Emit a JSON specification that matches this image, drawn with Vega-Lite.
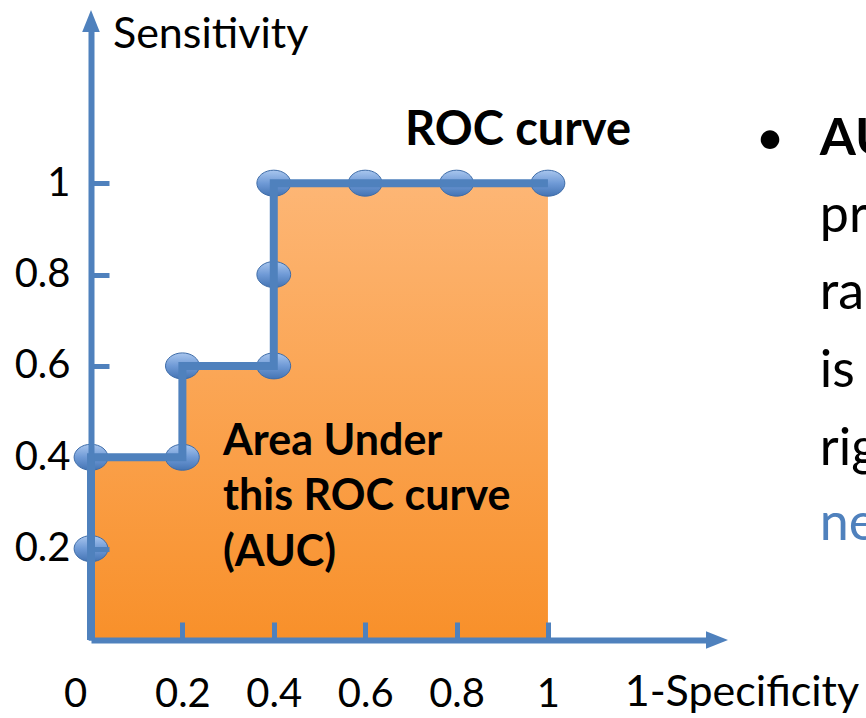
{
  "$schema": "https://vega.github.io/schema/vega-lite/v6.json",
  "width": 626,
  "height": 619,
  "autosize": {"type": "none"},
  "padding": {"left": 91, "top": 21, "right": 149, "bottom": 78},
  "background": "white",
  "config": {"view": {"stroke": null}, "font": "Lato"},
  "datasets": {
    "area": [
      {"x": 0, "y": 0.4},
      {"x": 0.2, "y": 0.6},
      {"x": 0.4, "y": 1},
      {"x": 1, "y": 1}
    ],
    "path": [
      {"o": 1, "x": 0, "y": 0},
      {"o": 2, "x": 0, "y": 0.4},
      {"o": 3, "x": 0.2, "y": 0.4},
      {"o": 4, "x": 0.2, "y": 0.6},
      {"o": 5, "x": 0.4, "y": 0.6},
      {"o": 6, "x": 0.4, "y": 1},
      {"o": 7, "x": 1, "y": 1}
    ],
    "pts": [
      {"x": 0, "y": 0.2},
      {"x": 0, "y": 0.4},
      {"x": 0.2, "y": 0.4},
      {"x": 0.2, "y": 0.6},
      {"x": 0.4, "y": 0.6},
      {"x": 0.4, "y": 0.8},
      {"x": 0.4, "y": 1},
      {"x": 0.6, "y": 1},
      {"x": 0.8, "y": 1},
      {"x": 1, "y": 1}
    ]
  },
  "encoding": {
    "x": {
      "field": "x", "type": "quantitative",
      "scale": {"domain": [0, 1.37], "nice": false, "zero": false},
      "axis": {
        "values": [0, 0.2, 0.4, 0.6, 0.8, 1], "format": "~g", "title": null, "grid": false,
        "domainColor": "#4f81bd", "domainWidth": 6, "tickColor": "#4f81bd", "tickWidth": 5,
        "tickSize": -18, "labelPadding": 52, "labelFontSize": 40, "labelFont": "Lato",
        "labelColor": "#000000", "labelFlush": false, "zindex": 1,
        "labelOffset": {"condition": {"test": "datum.value === 0", "value": -16}, "value": 0}
      }
    },
    "y": {
      "field": "y", "type": "quantitative",
      "scale": {"domain": [0, 1.355], "nice": false, "zero": false},
      "axis": {
        "values": [0.2, 0.4, 0.6, 0.8, 1], "format": "~g", "title": null, "grid": false,
        "domainColor": "#4f81bd", "domainWidth": 6, "tickColor": "#4f81bd", "tickWidth": 5,
        "tickSize": -18, "labelPadding": 39, "labelFontSize": 40, "labelFont": "Lato",
        "labelColor": "#000000", "labelFlush": false, "zindex": 1
      }
    }
  },
  "layer": [
    {
      "data": {"name": "area"},
      "mark": {
        "type": "area", "interpolate": "step-after", "opacity": 1,
        "fill": {"gradient": "linear", "x1": 0, "y1": 0, "x2": 0, "y2": 1,
          "stops": [{"offset": 0, "color": "#fdb675"}, {"offset": 1, "color": "#f8902a"}]}
      }
    },
    {
      "data": {"name": "pts"},
      "mark": {
        "type": "point", "filled": true, "opacity": 1, "size": 676,
        "shape": "M-1.3,0A1.3,1,0,1,0,1.3,0A1.3,1,0,1,0,-1.3,0Z",
        "fill": {"gradient": "linear", "x1": 0, "y1": 0, "x2": 0, "y2": 1,
          "stops": [{"offset": 0, "color": "#a9c6ee"}, {"offset": 0.5, "color": "#6f9ad6"}, {"offset": 1, "color": "#4474b4"}]},
        "stroke": "#3e6ca8", "strokeWidth": 1
      }
    },
    {
      "data": {"name": "path"},
      "mark": {"type": "line", "color": "#4f81bd", "strokeWidth": 8, "strokeCap": "butt", "strokeJoin": "miter"},
      "encoding": {"order": {"field": "o", "type": "quantitative"}}
    },
    {
      "data": {"values": [{"x": 1.37, "y": 0}]},
      "mark": {"type": "point", "filled": true, "opacity": 1, "size": 484, "shape": "M1,0L-1,-0.8L-1,0.8Z", "fill": "#4f81bd", "strokeWidth": 0}
    },
    {
      "data": {"values": [{"x": 0, "y": 1.355}]},
      "mark": {"type": "point", "filled": true, "opacity": 1, "size": 484, "shape": "M0,-1L-0.8,1L0.8,1Z", "fill": "#4f81bd", "strokeWidth": 0}
    },
    {
      "data": {"values": [
        {"x": 0.048, "y": 1.295, "t": "Sensitivity"},
        {"x": 1.168, "y": -0.144, "t": "1-Specificity"}
      ]},
      "mark": {"type": "text", "align": "left", "baseline": "alphabetic", "font": "Lato", "fontSize": 43, "color": "#000000"},
      "encoding": {"text": {"field": "t"}}
    },
    {
      "data": {"values": [{"x": 0.687, "y": 1.083, "t": "ROC curve"}]},
      "mark": {"type": "text", "align": "left", "baseline": "alphabetic", "font": "Lato", "fontSize": 47, "fontWeight": "bold", "color": "#000000"},
      "encoding": {"text": {"field": "t"}}
    },
    {
      "data": {"values": [
        {"x": 0.289, "y": 0.405, "t": "Area Under"},
        {"x": 0.289, "y": 0.284, "t": "this ROC curve"},
        {"x": 0.289, "y": 0.162, "t": "(AUC)"}
      ]},
      "mark": {"type": "text", "align": "left", "baseline": "alphabetic", "font": "Lato", "fontSize": 43, "fontWeight": "bold", "color": "#000000"},
      "encoding": {"text": {"field": "t"}}
    },
    {
      "data": {"values": [{"x": 1.486, "y": 1.061, "t": "•"}]},
      "mark": {"type": "text", "align": "center", "baseline": "alphabetic", "font": "Lato", "fontSize": 50, "color": "#000000"},
      "encoding": {"text": {"field": "t"}}
    },
    {
      "data": {"values": [{"x": 1.595, "y": 1.061, "t": "AUC is the"}]},
      "mark": {"type": "text", "align": "left", "baseline": "alphabetic", "font": "Lato", "fontSize": 52, "fontWeight": "bold", "color": "#000000"},
      "encoding": {"text": {"field": "t"}}
    },
    {
      "data": {"values": [
        {"x": 1.595, "y": 0.893, "t": "probability that a"},
        {"x": 1.595, "y": 0.724, "t": "randomly chosen positive"},
        {"x": 1.595, "y": 0.554, "t": "is ranked to the"},
        {"x": 1.595, "y": 0.383, "t": "right of a randomly chosen"}
      ]},
      "mark": {"type": "text", "align": "left", "baseline": "alphabetic", "font": "Lato", "fontSize": 52, "color": "#000000"},
      "encoding": {"text": {"field": "t"}}
    },
    {
      "data": {"values": [{"x": 1.595, "y": 0.219, "t": "negative"}]},
      "mark": {"type": "text", "align": "left", "baseline": "alphabetic", "font": "Lato", "fontSize": 52, "color": "#4f81bd"},
      "encoding": {"text": {"field": "t"}}
    }
  ]
}
